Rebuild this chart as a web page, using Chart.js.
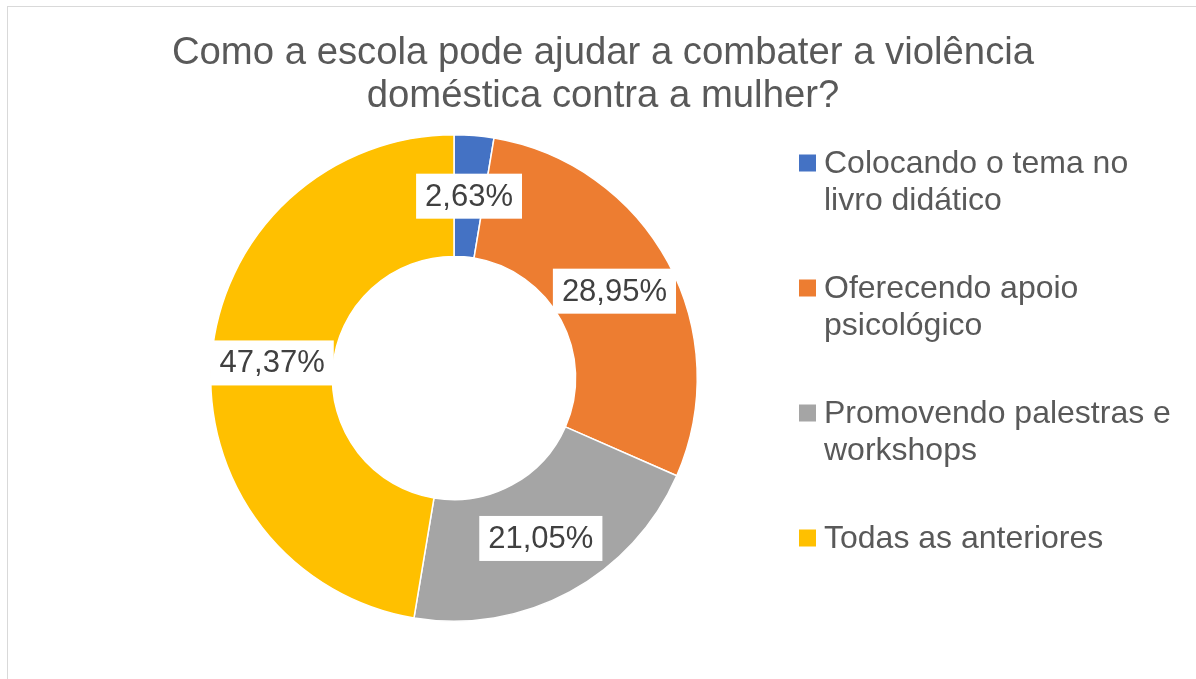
<!DOCTYPE html>
<html lang="pt">
<head>
  <meta charset="UTF-8">
  <title>Como a escola pode ajudar a combater a violência doméstica contra a mulher?</title>
  <script src="https://cdn.jsdelivr.net/npm/chart.js"></script>
  <style>
    html, body {
      margin: 0;
      padding: 0;
      background: #fff;
      overflow: hidden;
    }
    .wrap {
      position: relative;
      width: 1196px;
      height: 679px;
    }
    .frame {
      position: absolute;
      left: 7px;
      top: 6px;
      width: 1300px;
      height: 800px;
      border: 1px solid #d9d9d9;
      pointer-events: none;
    }
    canvas {
      position: absolute;
      left: 0;
      top: 0;
    }
  </style>
</head>
<body>
  <div class="wrap">
    <canvas id="donut" width="1196" height="679"></canvas>
    <div class="frame"></div>
  </div>

  <script>
    // data
    const titleLines = ['Como a escola pode ajudar a combater a violência', 'doméstica contra a mulher?'];
    const categories = [
      'Colocando o tema no livro didático',
      'Oferecendo apoio psicológico',
      'Promovendo palestras e workshops',
      'Todas as anteriores'
    ];
    const percentages = [2.63, 28.95, 21.05, 47.37];
    const sliceColors = ['#4472C4', '#ED7D31', '#A5A5A5', '#FFC000'];

    const FONT = '"Liberation Sans", Arial, sans-serif';
    const fmt = v => v.toFixed(2).replace('.', ',') + '%';

    // two-line title, centred over the whole figure
    const topTitle = {
      id: 'topTitle',
      afterDraw(chart) {
        const ctx = chart.ctx;
        ctx.save();
        ctx.font = '38.3px ' + FONT;
        ctx.fillStyle = '#595959';
        ctx.textAlign = 'center';
        ctx.textBaseline = 'alphabetic';
        titleLines.forEach((ln, i) => ctx.fillText(ln, 603, 64 + i * 43));
        ctx.restore();
      }
    };

    // white boxed value labels in the middle of each ring segment
    const sliceLabels = {
      id: 'sliceLabels',
      afterDatasetsDraw(chart) {
        const ctx = chart.ctx;
        const meta = chart.getDatasetMeta(0);
        ctx.save();
        ctx.font = '31px ' + FONT;
        ctx.textAlign = 'center';
        ctx.textBaseline = 'middle';
        meta.data.forEach((arc, i) => {
          const pos = arc.tooltipPosition();
          const text = fmt(percentages[i]);
          const w = ctx.measureText(text).width + 18;
          const h = 45;
          ctx.fillStyle = '#fff';
          ctx.fillRect(pos.x - w / 2, pos.y - h / 2, w, h);
          ctx.fillStyle = '#404040';
          ctx.fillText(text, pos.x, pos.y + 1);
        });
        ctx.restore();
      }
    };

    // legend on the right with wrapped labels
    const sideLegend = {
      id: 'sideLegend',
      afterDraw(chart) {
        const ctx = chart.ctx;
        const x0 = 799, y0 = 163, box = 17, step = 125, lineStep = 37, maxW = 352;
        ctx.save();
        ctx.font = '32px ' + FONT;
        ctx.textBaseline = 'middle';
        ctx.textAlign = 'left';
        categories.forEach((label, i) => {
          const y = y0 + i * step;
          ctx.fillStyle = sliceColors[i];
          ctx.fillRect(x0, y - box / 2, box, box);
          // simple word wrap
          const words = label.split(' ');
          const lines = [];
          let cur = '';
          words.forEach(w => {
            const test = cur ? cur + ' ' + w : w;
            if (ctx.measureText(test).width > maxW && cur) {
              lines.push(cur);
              cur = w;
            } else {
              cur = test;
            }
          });
          lines.push(cur);
          ctx.fillStyle = '#595959';
          lines.forEach((ln, j) => ctx.fillText(ln, x0 + 25, y + j * lineStep + 1));
        });
        ctx.restore();
      }
    };

    const ctx = document.getElementById('donut').getContext('2d');
    new Chart(ctx, {
      type: 'doughnut',
      data: {
        labels: categories,
        datasets: [{
          data: percentages,
          backgroundColor: sliceColors,
          borderColor: '#fff',
          borderWidth: 1.5,
          hoverOffset: 0
        }]
      },
      options: {
        responsive: false,
        animation: false,
        cutout: '50%',
        layout: {
          padding: { left: 210, right: 498, top: 134, bottom: 57 }
        },
        plugins: {
          legend: { display: false },
          tooltip: { enabled: false },
          title: { display: false }
        }
      },
      plugins: [sliceLabels, sideLegend, topTitle]
    });
  </script>
</body>
</html>
